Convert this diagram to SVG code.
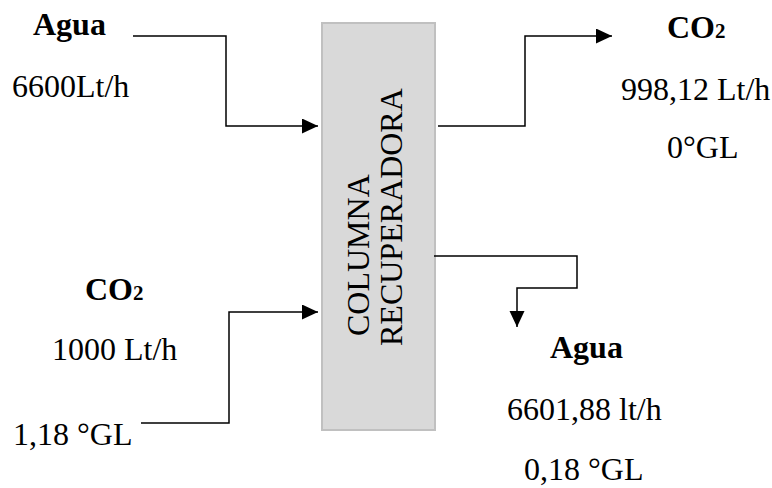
<svg xmlns="http://www.w3.org/2000/svg" width="772" height="488" viewBox="0 0 772 488">
<style>
  text { font-family: "Liberation Serif", "Times New Roman", serif; font-size: 32px; fill: #000; }
  .b { font-weight: bold; }
  .sub { font-size: 21px; }
  .conn { fill: none; stroke: #000; stroke-width: 1.5; }
</style>
<defs>
  <marker id="arr" markerUnits="userSpaceOnUse" markerWidth="17" markerHeight="16" refX="16" refY="7.5" orient="auto">
    <path d="M0,0 L16,7.5 L0,15 Z" fill="#000"/>
  </marker>
</defs>
<rect width="772" height="488" fill="#fff"/>
<g id="columna">
  <rect x="322" y="23" width="113" height="407" fill="#d9d9d9" stroke="#c0c0c0" stroke-width="2"/>
  <text transform="translate(369,336) rotate(-90)">COLUMNA</text>
  <text transform="translate(402,346) rotate(-90)">RECUPERADORA</text>
</g>
<g id="agua-in">
  <text class="b" x="33" y="35">Agua</text>
  <text x="12" y="97">6600Lt/h</text>
</g>
<g id="co2-out">
  <text class="b" x="667" y="38">CO<tspan class="sub">2</tspan></text>
  <text x="621" y="100">998,12 Lt/h</text>
  <text x="667" y="158">0°GL</text>
</g>
<g id="co2-in">
  <text class="b" x="85" y="300">CO<tspan class="sub">2</tspan></text>
  <text x="52" y="360">1000 Lt/h</text>
  <text x="13" y="445">1,18 °GL</text>
</g>
<g id="agua-out">
  <text class="b" x="550" y="358">Agua</text>
  <text x="507" y="420">6601,88 lt/h</text>
  <text x="524" y="480">0,18 °GL</text>
</g>
<g id="connectors">
  <polyline class="conn" points="133,36 226,36 226,126 318,126" marker-end="url(#arr)"/>
  <polyline class="conn" points="438,126 525,126 525,36 612,36" marker-end="url(#arr)"/>
  <polyline class="conn" points="141,423 229,423 229,312 318,312" marker-end="url(#arr)"/>
  <polyline class="conn" points="434,256 577,256 577,288 517,288 517,327" marker-end="url(#arr)"/>
</g>
</svg>
